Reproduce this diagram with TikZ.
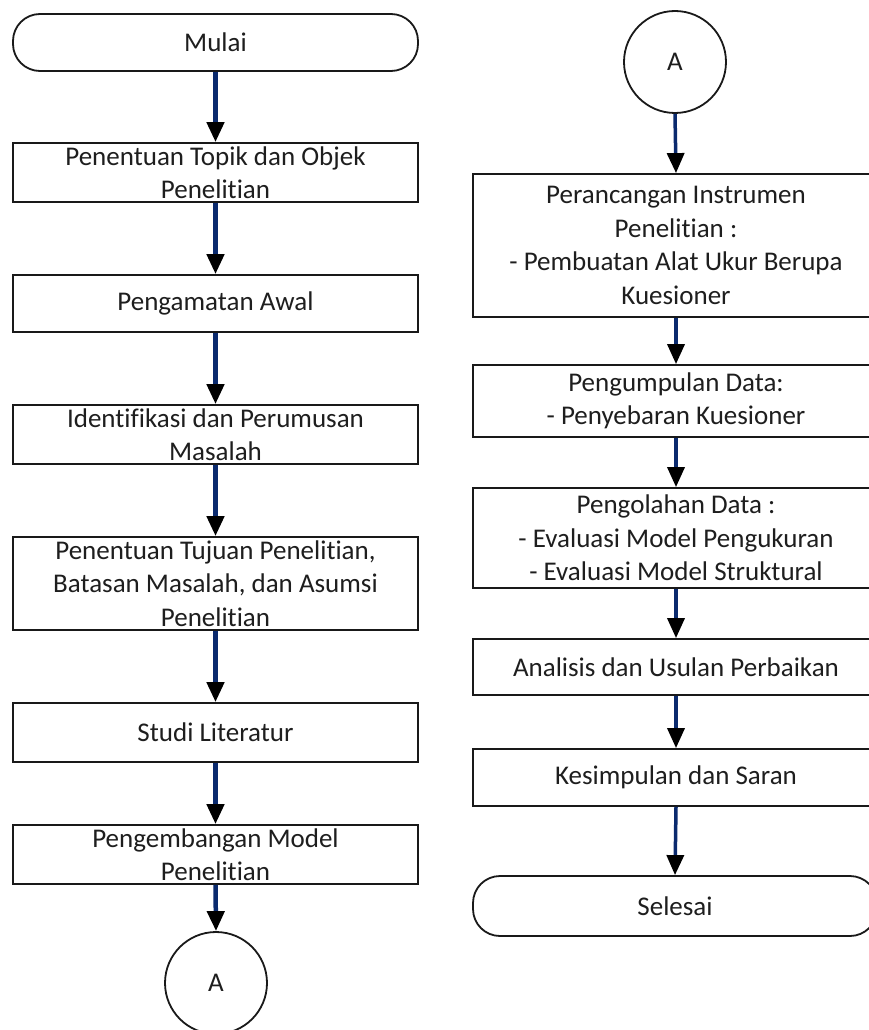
\documentclass[tikz,border=0pt]{standalone}
\usepackage{fontspec}
\setmainfont{Carlito}[Ligatures={NoCommon}]
\usetikzlibrary{arrows.meta}
\definecolor{navy}{HTML}{0A2A6E}
\definecolor{txt}{HTML}{1E1E1E}
\begin{document}
\begin{tikzpicture}[x=1pt,y=-1pt,
  boxL/.style={draw=black!90, fill=white, line width=1.8pt, minimum width=405pt, inner sep=0pt},
  boxR/.style={draw=black!90, fill=white, line width=1.8pt, minimum width=406pt, inner sep=0pt},
  term/.style={draw=black!90, fill=white, line width=1.8pt, rounded corners=27pt, inner sep=0pt},
  conn/.style={draw=black!90, fill=white, line width=1.8pt, circle, minimum size=102pt, inner sep=0pt, text=txt, font=\fontsize{27}{33.5}\selectfont},
  lbl/.style={align=center, inner sep=0pt, text=txt, font=\fontsize{27}{33.5}\selectfont},
  arrL/.style={navy, line width=4.5pt, -{Triangle[length=20pt,width=17pt,color=black]}},
  arrR/.style={navy, line width=3.5pt, -{Triangle[length=20pt,width=17pt,color=black]}}]
\useasboundingbox (0,0) rectangle (869,1030);
\clip (0,0) rectangle (869,1030);
\newcommand{\boxlabel}[3]{\begin{scope}\clip (#1.south west) rectangle (#1.north east);\node[lbl] (#2) at (#1) {#3};\end{scope}}

% left column
\node[term, minimum width=405pt, minimum height=57pt] (mulai) at (215.5,42.5) {};
\boxlabel{mulai}{mulait}{Mulai}
\node[boxL, minimum height=59pt] (b1) at (215.5,172.5) {};
\boxlabel{b1}{b1t}{Penentuan Topik dan Objek\\Penelitian}
\node[boxL, minimum height=57pt] (b2) at (215.5,303.5) {};
\boxlabel{b2}{b2t}{Pengamatan Awal}
\node[boxL, minimum height=59pt] (b3) at (215.5,434.5) {};
\boxlabel{b3}{b3t}{Identifikasi dan Perumusan\\Masalah}
\node[boxL, minimum height=93pt] (b4) at (215.5,583.5) {};
\boxlabel{b4}{b4t}{Penentuan Tujuan Penelitian,\\Batasan Masalah, dan Asumsi\\Penelitian}
\node[boxL, minimum height=59pt] (b5) at (215.5,732.5) {};
\boxlabel{b5}{b5t}{Studi Literatur}
\node[boxL, minimum height=59pt] (b6) at (215.5,854.5) {};
\boxlabel{b6}{b6t}{Pengembangan Model\\Penelitian}
\node[conn] (a1) at (216,983) {A};

\draw[arrL] (mulai.south) -- (b1.north);
\draw[arrL] (b1.south) -- (b2.north);
\draw[arrL] (b2.south) -- (b3.north);
\draw[arrL] (b3.south) -- (b4.north);
\draw[arrL] (b4.south) -- (b5.north);
\draw[arrL] (b5.south) -- (b6.north);
\draw[arrL] (b6.south) -- (a1.north);

% right column
\node[conn] (a2) at (675,62) {A};
\node[boxR, minimum height=143pt] (r1) at (676,245.5) {};
\boxlabel{r1}{r1t}{Perancangan Instrumen\\Penelitian :\\- Pembuatan Alat Ukur Berupa\\Kuesioner}
\node[boxR, minimum height=72pt] (r2) at (676,401) {};
\boxlabel{r2}{r2t}{Pengumpulan Data:\\- Penyebaran Kuesioner}
\node[boxR, minimum height=100pt] (r3) at (676,538) {};
\boxlabel{r3}{r3t}{Pengolahan Data :\\- Evaluasi Model Pengukuran\\- Evaluasi Model Struktural}
\node[boxR, minimum height=56pt] (r4) at (676,667) {};
\boxlabel{r4}{r4t}{Analisis dan Usulan Perbaikan}
\node[boxR, minimum height=57pt] (r5) at (676,777.5) {};
\boxlabel{r5}{r5t}{Kesimpulan dan Saran}
\node[term, minimum width=404pt, minimum height=60pt] (selesai) at (675,906) {};
\boxlabel{selesai}{selesait}{Selesai}

\draw[arrR] (a2.south) -- (r1.north);
\draw[arrR] (r1.south) -- (r2.north);
\draw[arrR] (r2.south) -- (r3.north);
\draw[arrR] (r3.south) -- (r4.north);
\draw[arrR] (r4.south) -- (r5.north);
\draw[arrR] (r5.south) -- (selesai.north);
\end{tikzpicture}
\end{document}
